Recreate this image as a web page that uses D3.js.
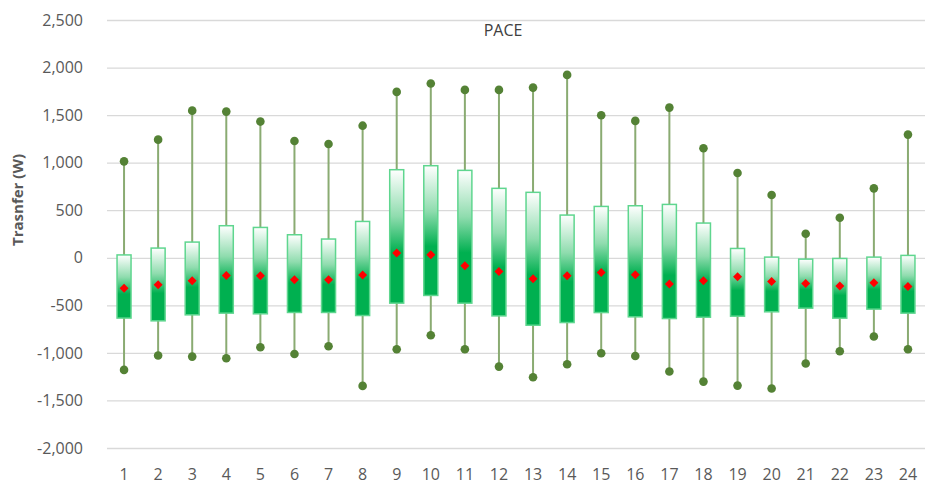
<!DOCTYPE html>
<html><head><meta charset="utf-8">
<script src="https://cdn.jsdelivr.net/npm/d3@7"></script>
<style>body{margin:0;background:#fff;} text{font-family:"Open Sans","Liberation Sans",sans-serif;}</style>
</head><body><svg id="c" width="932" height="498"></svg>
<script>
const hours = [1,2,3,4,5,6,7,8,9,10,11,12,13,14,15,16,17,18,19,20,21,22,23,24];
const maxV  = [1014,1242,1547,1537,1432,1228,1196,1389,1744,1832,1765,1765,1789,1923,1498,1439,1579,1151,891,660,253,421,730,1295];
const q3    = [30,102,165,337,319,242,197,382,926,968,919,730,688,449,540,547,561,365,98,7,-14,-7,7,25];
const meanV = [-320,-284,-242,-186,-189,-232,-232,-182,49,32,-84,-144,-221,-189,-154,-179,-277,-242,-200,-249,-270,-298,-263,-302];
const q1    = [-634,-663,-600,-582,-589,-575,-575,-607,-477,-396,-477,-611,-709,-681,-576,-621,-639,-625,-614,-568,-530,-635,-540,-582];
const minV  = [-1179,-1028,-1039,-1056,-940,-1011,-930,-1347,-961,-814,-961,-1144,-1256,-1119,-1004,-1032,-1196,-1302,-1344,-1375,-1112,-982,-828,-961];
const yTicks = [-2000,-1500,-1000,-500,0,500,1000,1500,2000,2500];

const svg = d3.select("#c");
const L = 107, R = 925, T = 20, B = 448;
const x = d3.scaleBand().domain(hours).range([L, R]).paddingInner(0).paddingOuter(0);
const y = d3.scaleLinear().domain([-2000, 2500]).range([B, T]);
const fmt = v => d3.format(",")(v).replace("\u2212", "-");

const defs = svg.append("defs");
const g = defs.append("linearGradient").attr("id","gr").attr("x1",0).attr("y1",0).attr("x2",0).attr("y2",1);
g.append("stop").attr("offset","0%").attr("stop-color","#ffffff");
g.append("stop").attr("offset","35%").attr("stop-color","#8fdcae");
g.append("stop").attr("offset","62%").attr("stop-color","#00b050");
g.append("stop").attr("offset","100%").attr("stop-color","#00b050");

// gridlines
const ya = d3.axisLeft(y).tickValues(yTicks).tickFormat(fmt).tickSize(-(R - L)).tickPadding(24);
const yg = svg.append("g").attr("transform", `translate(${L},0)`).call(ya);
yg.select(".domain").remove();
yg.selectAll(".tick line").attr("stroke","#d9d9d9").attr("stroke-width",1.3);
yg.selectAll(".tick text").attr("fill","#595959").attr("font-size","16px");

const xa = d3.axisBottom(x).tickSize(0).tickPadding(21);
const xg = svg.append("g").attr("transform", `translate(0,${B})`).call(xa);
xg.select(".domain").remove();
xg.selectAll(".tick text").attr("fill","#595959").attr("font-size","16px");

svg.append("text").attr("x",503).attr("y",36).attr("text-anchor","middle")
  .attr("font-size","16px").attr("fill","#404040").text("PACE");
svg.append("text").attr("transform","translate(23,200) rotate(-90)").attr("text-anchor","middle")
  .attr("font-size","15px").attr("font-weight","bold").attr("fill","#595959").text("Trasnfer (W)");

const data = hours.map((h,i)=>({h, max:maxV[i], q3:q3[i], mean:meanV[i], q1:q1[i], min:minV[i]}));
const cx = d => x(d.h) + x.bandwidth()/2;
const bw = 14;
const plot = svg.append("g");
plot.selectAll(".wh").data(data).join("line")
  .attr("x1",cx).attr("x2",cx).attr("y1",d=>y(d.max)).attr("y2",d=>y(d.min))
  .attr("stroke","#8aab72").attr("stroke-width",2);
plot.selectAll(".bx").data(data).join("rect")
  .attr("x",d=>cx(d)-bw/2).attr("width",bw)
  .attr("y",d=>y(d.q3)).attr("height",d=>y(d.q1)-y(d.q3))
  .attr("fill","url(#gr)").attr("stroke","#5fd68f").attr("stroke-width",1.5);
plot.selectAll(".dmax").data(data).join("circle")
  .attr("cx",cx).attr("cy",d=>y(d.max)).attr("r",4.3).attr("fill","#548235");
plot.selectAll(".dmin").data(data).join("circle")
  .attr("cx",cx).attr("cy",d=>y(d.min)).attr("r",4.3).attr("fill","#548235");
plot.selectAll(".mn").data(data).join("path")
  .attr("transform",d=>`translate(${cx(d)},${y(d.mean)})`)
  .attr("d","M0,-4.5L4.5,0L0,4.5L-4.5,0Z").attr("fill","#ff0000");
</script></body></html>
